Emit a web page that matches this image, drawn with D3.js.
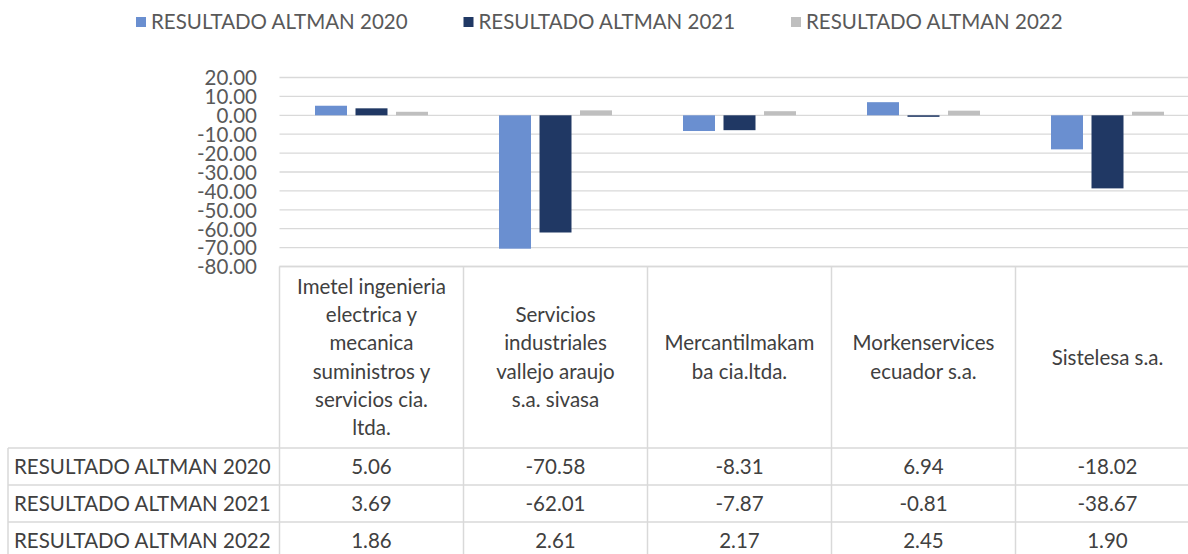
<!DOCTYPE html>
<html>
<head>
<meta charset="utf-8">
<script src="https://cdn.jsdelivr.net/npm/d3@7"></script>
<style>
  html, body { margin: 0; padding: 0; background: #fff; }
  svg { display: block; font-family: Lato, "Open Sans", sans-serif; }
</style>
</head>
<body>
<div id="chart"></div>
<script>
// ===== datos =====
const categories = [
  'Imetel ingenieria electrica y mecanica suministros y servicios cia. ltda.',
  'Servicios industriales vallejo araujo s.a. sivasa',
  'Mercantilmakamba cia.ltda.',
  'Morkenservices ecuador s.a.',
  'Sistelesa s.a.'
];
// cortes de línea tal como salen en la tabla
const categoryLines = [
  ['Imetel ingenieria', 'electrica y', 'mecanica', 'suministros y', 'servicios cia.', 'ltda.'],
  ['Servicios', 'industriales', 'vallejo araujo', 's.a. sivasa'],
  ['Mercantilmakam', 'ba cia.ltda.'],
  ['Morkenservices', 'ecuador s.a.'],
  ['Sistelesa s.a.']
];
const seriesNames = ['RESULTADO ALTMAN 2020', 'RESULTADO ALTMAN 2021', 'RESULTADO ALTMAN 2022'];
const altman2020 = [5.06, -70.58, -8.31, 6.94, -18.02];
const altman2021 = [3.69, -62.01, -7.87, -0.81, -38.67];
const altman2022 = [1.86, 2.61, 2.17, 2.45, 1.90];
const yTicks = [20, 10, 0, -10, -20, -30, -40, -50, -60, -70, -80];

const seriesValues = [altman2020, altman2021, altman2022];
const colors = ['#6a8fd0', '#203864', '#bfbfbf'];

const W = 1188, H = 554;
const left = 279.5, catW = 184;
const tableTop = 266.5, headerBottom = 448, rowH = 37;
const textColor = '#404040', gridColor = '#d9d9d9';
const fs = 20.5;

// formato con guion normal en vez del signo menos
const fmt = d3.formatLocale({ decimal: '.', thousands: ',', grouping: [3], currency: ['$', ''], minus: '-' }).format('.2f');

const svg = d3.select('#chart').append('svg')
  .attr('width', W).attr('height', H)
  .attr('viewBox', [0, 0, W, H]);

// escalas
const x0 = d3.scaleBand().domain(categories)
  .range([left, left + catW * categories.length]).padding(0);
const x1 = d3.scaleBand().domain(seriesNames)
  .range([0, 113]).paddingInner(0.21).paddingOuter(0);
const groupOffset = (x0.bandwidth() - 113) / 2;
const y = d3.scaleLinear().domain([-80, 20]).range([tableTop, 77.5]);

// líneas de cuadrícula
svg.append('g').selectAll('line')
  .data(yTicks)
  .join('line')
  .attr('x1', left).attr('x2', W)
  .attr('y1', d => y(d)).attr('y2', d => y(d))
  .attr('stroke', gridColor).attr('stroke-width', 1.3);

// eje Y
const yAxis = svg.append('g')
  .attr('transform', `translate(${257},0)`)
  .call(d3.axisLeft(y).tickValues(yTicks).tickFormat(fmt).tickSize(0).tickPadding(0));
yAxis.select('.domain').remove();
yAxis.selectAll('text')
  .attr('font-size', fs).attr('font-family', 'Lato, sans-serif')
  .attr('fill', '#595959').attr('dy', '0.36em');

// barras
const rows = categories.map((c, i) => ({ cat: c, vals: seriesNames.map((s, j) => ({ s, v: seriesValues[j][i], j })) }));
svg.append('g').selectAll('g')
  .data(rows)
  .join('g')
  .attr('transform', d => `translate(${x0(d.cat) + groupOffset},0)`)
  .selectAll('rect')
  .data(d => d.vals)
  .join('rect')
  .attr('x', d => x1(d.s))
  .attr('width', x1.bandwidth())
  .attr('y', d => y(Math.max(0, d.v)))
  .attr('height', d => Math.abs(y(d.v) - y(0)))
  .attr('fill', d => colors[d.j]);

// tabla de datos
const table = svg.append('g');
// horizontales
table.append('line')
  .attr('x1', left).attr('x2', W).attr('y1', tableTop).attr('y2', tableTop)
  .attr('stroke', gridColor).attr('stroke-width', 1.5);
table.selectAll('.hline')
  .data(d3.range(4))
  .join('line')
  .attr('class', 'hline')
  .attr('x1', 8).attr('x2', W)
  .attr('y1', i => headerBottom + i * rowH).attr('y2', i => headerBottom + i * rowH)
  .attr('stroke', gridColor).attr('stroke-width', 1.5);
// verticales
table.append('line')
  .attr('x1', 8).attr('x2', 8).attr('y1', headerBottom).attr('y2', H)
  .attr('stroke', gridColor).attr('stroke-width', 1.5);
table.selectAll('.vline')
  .data(categories)
  .join('line')
  .attr('class', 'vline')
  .attr('x1', d => x0(d)).attr('x2', d => x0(d))
  .attr('y1', tableTop).attr('y2', H)
  .attr('stroke', gridColor).attr('stroke-width', 1.5);

// encabezados de categoría
const headerMid = (tableTop + headerBottom) / 2;
const lineH = 28.3;
table.selectAll('.cat')
  .data(categories)
  .join('text')
  .attr('class', 'cat')
  .attr('text-anchor', 'middle')
  .attr('font-size', fs)
  .attr('fill', textColor)
  .each(function(d, i) {
    const lines = categoryLines[i];
    const start = headerMid - (lines.length - 1) * lineH / 2;
    d3.select(this).selectAll('tspan')
      .data(lines)
      .join('tspan')
      .attr('x', x0(d) + x0.bandwidth() / 2)
      .attr('y', (l, k) => start + k * lineH)
      .attr('dy', '0.36em')
      .text(l => l);
  });

// filas de series
seriesNames.forEach((s, j) => {
  const cy = headerBottom + j * rowH + rowH / 2;
  table.append('text')
    .attr('x', 14).attr('y', cy).attr('dy', '0.36em')
    .attr('font-size', fs).attr('fill', textColor)
    .text(s);
  table.selectAll(`.val${j}`)
    .data(categories)
    .join('text')
    .attr('class', `val${j}`)
    .attr('x', d => x0(d) + x0.bandwidth() / 2)
    .attr('y', cy).attr('dy', '0.36em')
    .attr('text-anchor', 'middle')
    .attr('font-size', fs).attr('fill', textColor)
    .text((d, i) => fmt(seriesValues[j][i]));
});

// leyenda
const legend = svg.append('g').selectAll('g')
  .data(seriesNames)
  .join('g')
  .attr('transform', (d, i) => `translate(${136 + i * 327.5},22)`);
legend.append('rect')
  .attr('x', 0).attr('y', -5).attr('width', 10).attr('height', 10)
  .attr('fill', (d, i) => colors[i]);
legend.append('text')
  .attr('x', 15).attr('dy', '0.36em')
  .attr('font-size', fs).attr('fill', '#595959')
  .text(d => d);
</script>
</body>
</html>
